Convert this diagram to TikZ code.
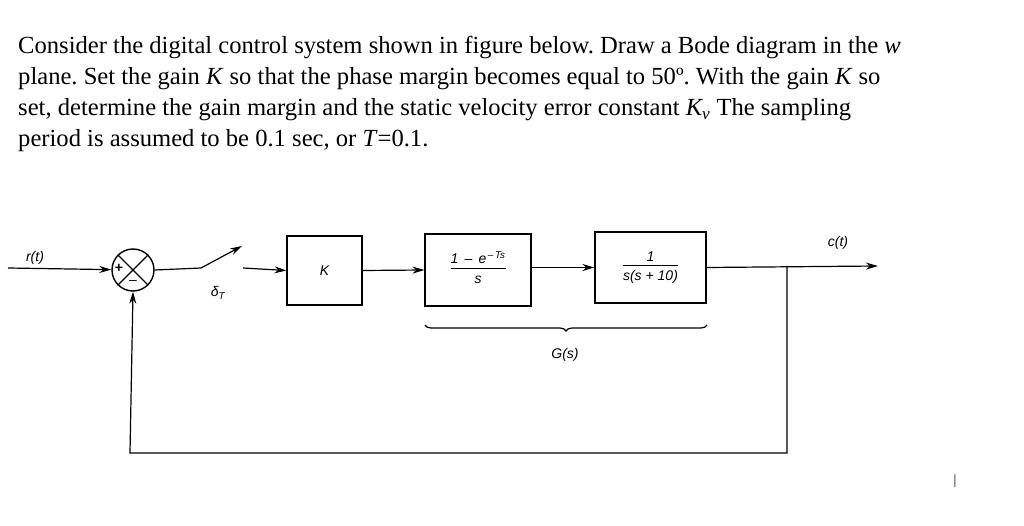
\documentclass[tikz,border=0pt]{standalone}
\usepackage{fontspec}
\setmainfont{Liberation Serif}
\newfontfamily\diag{Liberation Sans}
\usetikzlibrary{arrows.meta,decorations.pathreplacing}
\frenchspacing
\begin{document}
\begin{tikzpicture}[x=1pt,y=-1pt,
  blk/.style={draw,line width=1.2pt,inner sep=0pt},
  sig/.style={line width=1.2pt},
  arr/.style={sig,-{Stealth[length=12pt,width=7pt]}},
  lbl/.style={font=\diag\itshape\fontsize{14}{16}\selectfont},
  txt/.style={anchor=west,inner sep=0pt,font=\fontsize{24.6}{28}\selectfont}]
\useasboundingbox (0,0) rectangle (1024,526);
\node[txt] (l1) at (18,47) {Consider the digital control system shown in figure below. Draw a Bode diagram in the \textit{w}};
\node[txt] (l2) at (18,79) {plane. Set the gain \textit{K} so that the phase margin becomes equal to 50º. With the gain \textit{K} so};
\node[txt] (l3) at (18,110) {set, determine the gain margin and the static velocity error constant \textit{K\textsubscript{v}} The sampling};
\node[txt] (l4) at (18,141) {period is assumed to be 0.1 sec, or \textit{T}=0.1.};
% blocks
\node[circle,draw,line width=1.4pt,minimum size=42pt,inner sep=0pt] (sum) at (133,270) {};
\draw[sig] (sum.45) -- (sum.225) (sum.135) -- (sum.315);
\node[font=\diag\bfseries\fontsize{14}{16}\selectfont] (plus) at (119,268) {+};
\node[lbl] (minus) at (133,282) {\textendash};
\coordinate (in) at (8,268);
\node[lbl] (rt) at (35,258) {r(t)};
\draw[arr] (in) -- (sum);
\coordinate (sw1) at (201,268);
\coordinate (sw2) at (242,246);
\draw[sig] (sum.east) -- (sw1);
\draw[arr] (sw1) -- (sw2);
\node[lbl] (dt) at (218,293) {δ\textsubscript{T}};
\node[blk,minimum width=75pt,minimum height=69pt] (K) at (324.5,270.5) {\diag\itshape\fontsize{14}{16}\selectfont K};
\coordinate (kin) at (243,268);
\draw[arr] (kin) -- (K.west);
\node[blk,minimum width=106pt,minimum height=72pt] (zoh) at (478,270) {};
\node[lbl,inner sep=0pt] (zohn) at (478,270) {\begin{tabular}{@{}c@{}}1 \,\textendash\, e\textsuperscript{\,\textendash\,Ts}\\[-1pt]\hline\rule{0pt}{15pt}s\end{tabular}};
\draw[arr] (K.east) -- (zoh.west);
\node[blk,minimum width=111pt,minimum height=71pt] (pl) at (650.5,267.5) {};
\node[lbl,inner sep=0pt] (pln) at (650.5,268) {\begin{tabular}{@{}c@{}}1\\[-1pt]\hline\rule{0pt}{15pt}s(s + 10)\end{tabular}};
\draw[arr] (zoh.east|-pl) -- (pl.west);
\coordinate (out) at (878,266);
\coordinate (br) at (787,266);
\draw[arr] (pl.east) -- (out);
\node[lbl] (ct) at (838,243) {c(t)};
\coordinate (b1) at (787,453);
\coordinate (b2) at (130,453);
\draw[arr] (br) -- (b1) -- (b2) -- (sum.south);
\coordinate (g1) at (425,325);
\coordinate (g2) at (707,325);
\draw[sig,decorate,decoration={brace,amplitude=6pt,mirror}] (g1) -- (g2);
\node[lbl] (gs) at (565,355) {G(s)};
\node[inner sep=0pt,font=\fontsize{14}{14}\selectfont] (bar) at (955,481) {|};
\end{tikzpicture}
\end{document}
